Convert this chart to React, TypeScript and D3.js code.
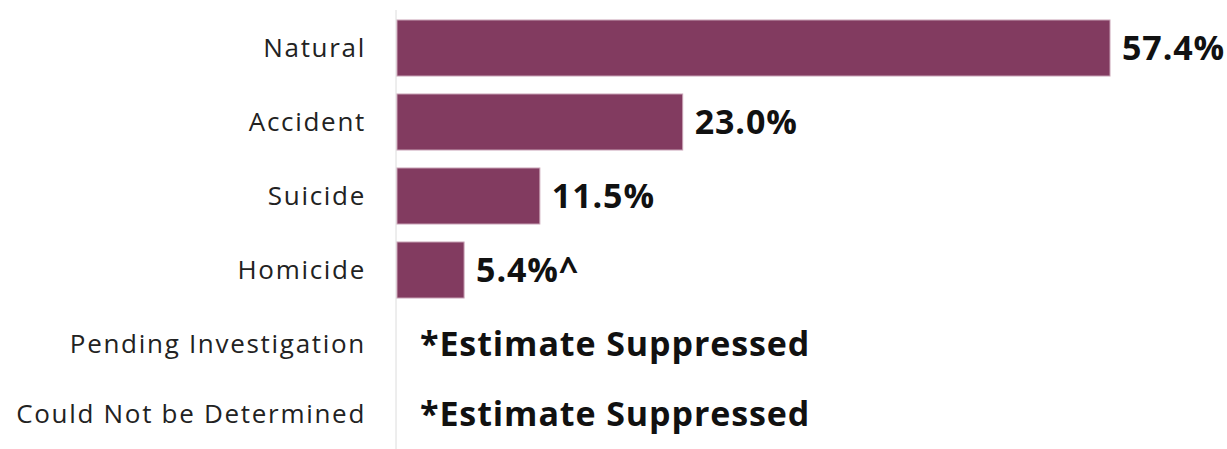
import React from "react";
import * as d3 from "d3";

const categories = [
  "Natural",
  "Accident",
  "Suicide",
  "Homicide",
  "Pending Investigation",
  "Could Not be Determined",
];
const values: (number | null)[] = [57.4, 23.0, 11.5, 5.4, null, null];
const valueLabels = ["57.4%", "23.0%", "11.5%", "5.4%^", "*Estimate Suppressed", "*Estimate Suppressed"];

const W = 1227;
const H = 449;
const FONT = "'Open Sans', 'Noto Sans', sans-serif";

export default function App() {
  const x = d3.scaleLinear().domain([0, 57.4]).range([397, 1110]);
  const y = d3
    .scaleBand<string>()
    .domain(categories)
    .range([11, 11 + 74 * 6])
    .paddingInner(0.243)
    .paddingOuter(0.1215);

  return (
    <svg width={W} height={H} style={{ position: "absolute", left: 0, top: 0, background: "#fff" }}>
      <line x1={396} x2={396} y1={10} y2={H} stroke="#dcdcdc" strokeWidth={1} />
      {categories.map((c, i) => {
        const v = values[i];
        const yc = (y(c) as number) + y.bandwidth() / 2 - (i === 5 ? 4 : 0);
        return (
          <g key={c}>
            <text
              x={366}
              y={yc}
              dy="0.35em"
              textAnchor="end"
              fontFamily={FONT}
              fontSize={26}
              letterSpacing={1.7}
              fill="#222"
            >
              {c}
            </text>
            {v !== null && (
              <rect
                x={x(0)}
                y={y(c)}
                width={x(v) - x(0)}
                height={y.bandwidth()}
                fill="#823b60"
                stroke="#c9a3b6"
                strokeWidth={1}
              />
            )}
            <text
              x={v !== null ? x(v) + 12 : 420}
              y={yc}
              dy="0.36em"
              fontFamily={FONT}
              fontWeight={700}
              fontSize={34}
              letterSpacing={0.9}
              fill="#111"
            >
              {valueLabels[i]}
            </text>
          </g>
        );
      })}
    </svg>
  );
}
